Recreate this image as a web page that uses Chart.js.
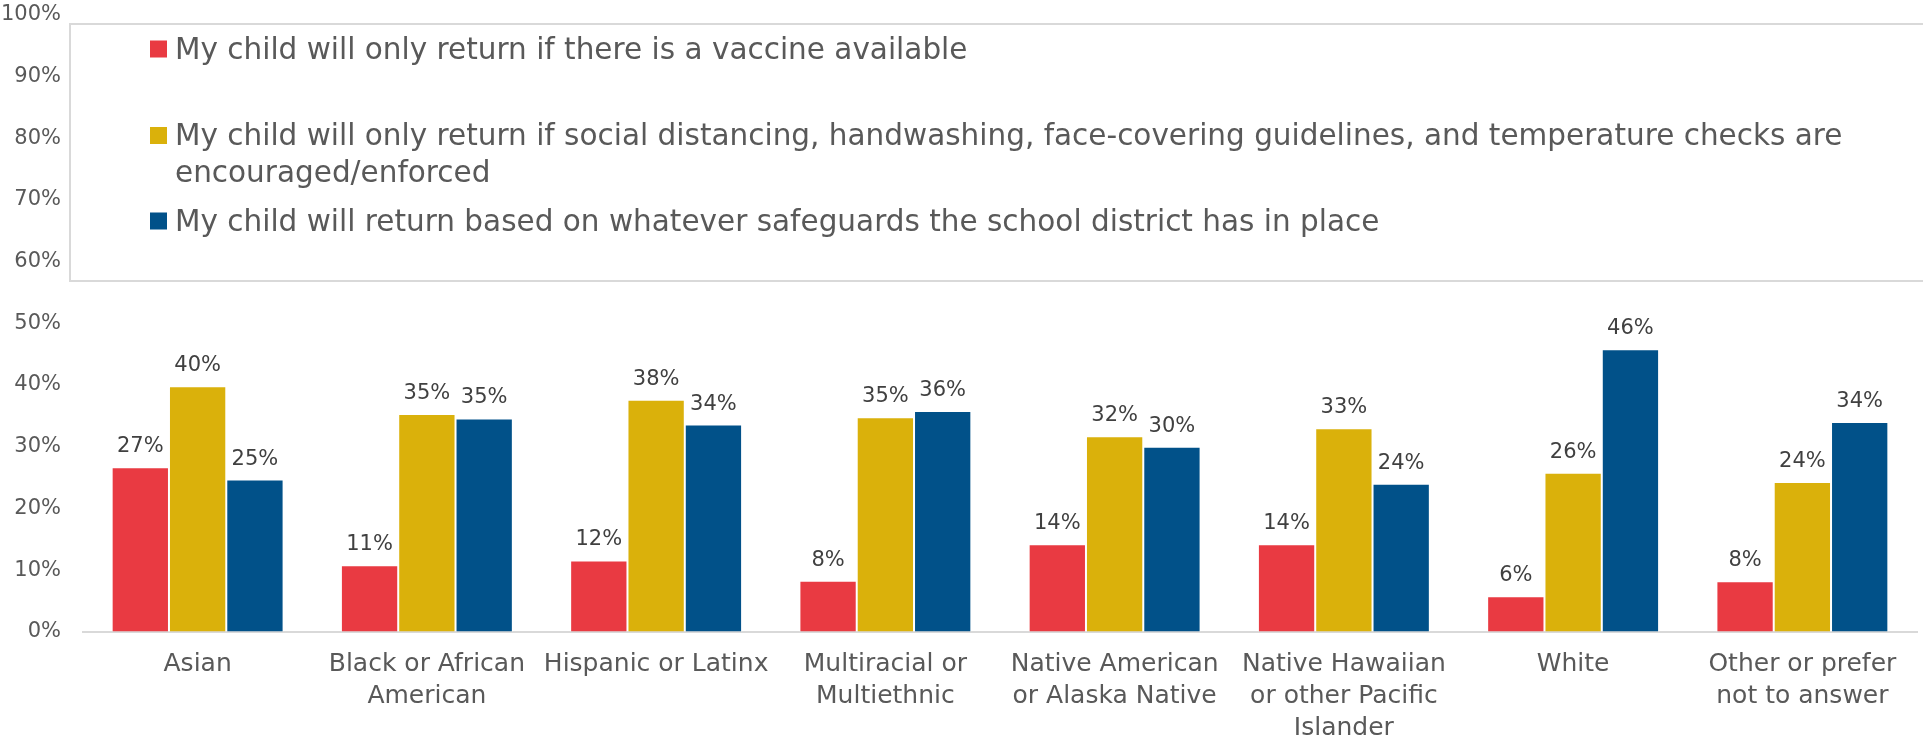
<!DOCTYPE html>
<html>
<head>
<meta charset="utf-8">
<script src="https://cdn.jsdelivr.net/npm/chart.js@4"></script>
<style>
  html, body { margin: 0; padding: 0; background: #fff; }
  #wrap { width: 1923px; height: 744px; }
</style>
</head>
<body>
<div id="wrap"><canvas id="barChart"></canvas></div>
<script>
var categories = [
  ["Asian"],
  ["Black or African", "American"],
  ["Hispanic or Latinx"],
  ["Multiracial or", "Multiethnic"],
  ["Native American", "or Alaska Native"],
  ["Native Hawaiian", "or other Pacific", "Islander"],
  ["White"],
  ["Other or prefer", "not to answer"]
];
var seriesNames = [
  "My child will only return if there is a vaccine available",
  "My child will only return if social distancing, handwashing, face-covering guidelines, and temperature checks are encouraged/enforced",
  "My child will return based on whatever safeguards the school district has in place"
];
// legend text as it wraps in the picture
var legendLines = [
  ["My child will only return if there is a vaccine available"],
  ["My child will only return if social distancing, handwashing, face-covering guidelines, and temperature checks are", "encouraged/enforced"],
  ["My child will return based on whatever safeguards the school district has in place"]
];
var vaccineOnly = [26.7, 10.8, 11.6, 8.3, 14.2, 14.2, 5.8, 8.2];
var guidelinesOnly = [39.8, 35.3, 37.6, 34.8, 31.7, 33.0, 25.8, 24.3];
var schoolSafeguards = [24.7, 34.6, 33.6, 35.8, 30.0, 24.0, 45.8, 34.0];
var tickValues = [0, 10, 20, 30, 40, 50, 60, 70, 80, 90, 100];

var colors = ["#E93A42", "#DAB10B", "#015189"];
var fontFamily = "'DejaVu Sans', sans-serif";

var valueLabels = {
  id: 'valueLabels',
  afterDatasetsDraw: function (chart) {
    var ctx = chart.ctx;
    ctx.save();
    ctx.font = "21px " + fontFamily;
    ctx.fillStyle = "#404040";
    ctx.textAlign = "center";
    ctx.textBaseline = "alphabetic";
    chart.data.datasets.forEach(function (ds, i) {
      chart.getDatasetMeta(i).data.forEach(function (bar, j) {
        ctx.fillText(Math.round(ds.data[j]) + "%", bar.x, bar.y - 15);
      });
    });
    ctx.restore();
  }
};

var boxLegend = {
  id: 'boxLegend',
  afterDraw: function (chart) {
    var ctx = chart.ctx;
    ctx.save();
    ctx.fillStyle = "#fff";
    ctx.fillRect(70, 24, chart.width, 257);
    ctx.strokeStyle = "#D9D9D9";
    ctx.lineWidth = 2;
    ctx.strokeRect(70, 24, chart.width, 257);
    ctx.font = "29.5px " + fontFamily;
    ctx.textBaseline = "middle";
    ctx.textAlign = "left";
    var rows = [[49], [135.5], [221]];
    legendLines.forEach(function (lines, i) {
      ctx.fillStyle = colors[i];
      ctx.fillRect(150, rows[i][0] - 8.5, 17, 17);
      ctx.fillStyle = "#595959";
      lines.forEach(function (t, k) {
        ctx.fillText(t, 175, rows[i][0] + 2 + k * 37);
      });
    });
    ctx.restore();
  }
};

var ctx = document.getElementById("barChart");
var barChart = new Chart(ctx, {
  type: 'bar',
  data: {
    labels: categories,
    datasets: [
      { label: seriesNames[0], data: vaccineOnly, backgroundColor: colors[0] },
      { label: seriesNames[1], data: guidelinesOnly, backgroundColor: colors[1] },
      { label: seriesNames[2], data: schoolSafeguards, backgroundColor: colors[2] }
    ]
  },
  options: {
    responsive: true,
    maintainAspectRatio: false,
    animation: false,
    layout: { padding: { top: 0, left: 0, right: 6, bottom: 0 } },
    datasets: {
      bar: {
        categoryPercentage: 0.75,
        barPercentage: 1,
        borderWidth: 1,
        borderColor: "rgba(255,255,255,0.85)",
        borderSkipped: 'bottom'
      }
    },
    plugins: {
      legend: { display: false },
      tooltip: { enabled: false }
    },
    scales: {
      x: {
        grid: { display: false, drawTicks: false },
        border: { display: true, color: "#D9D9D9", width: 2 },
        ticks: {
          color: "#595959",
          font: { family: fontFamily, size: 25, lineHeight: 1.28 },
          padding: 16,
          maxRotation: 0,
          autoSkip: false
        },
        afterFit: function (s) { s.height = 112; }
      },
      y: {
        min: 0,
        max: 100,
        afterBuildTicks: function (s) {
          s.ticks = tickValues.map(function (v) { return { value: v }; });
        },
        grid: { display: true, drawOnChartArea: false, drawTicks: true, tickLength: 20, color: "rgba(0,0,0,0)" },
        border: { display: false },
        ticks: {
          color: "#595959",
          font: { family: fontFamily, size: 21 },
          padding: 2,
          callback: function (v) { return v + "%"; }
        },
        afterFit: function (s) { s.width = 83; }
      }
    }
  },
  plugins: [valueLabels, boxLegend]
});
</script>
</body>
</html>
